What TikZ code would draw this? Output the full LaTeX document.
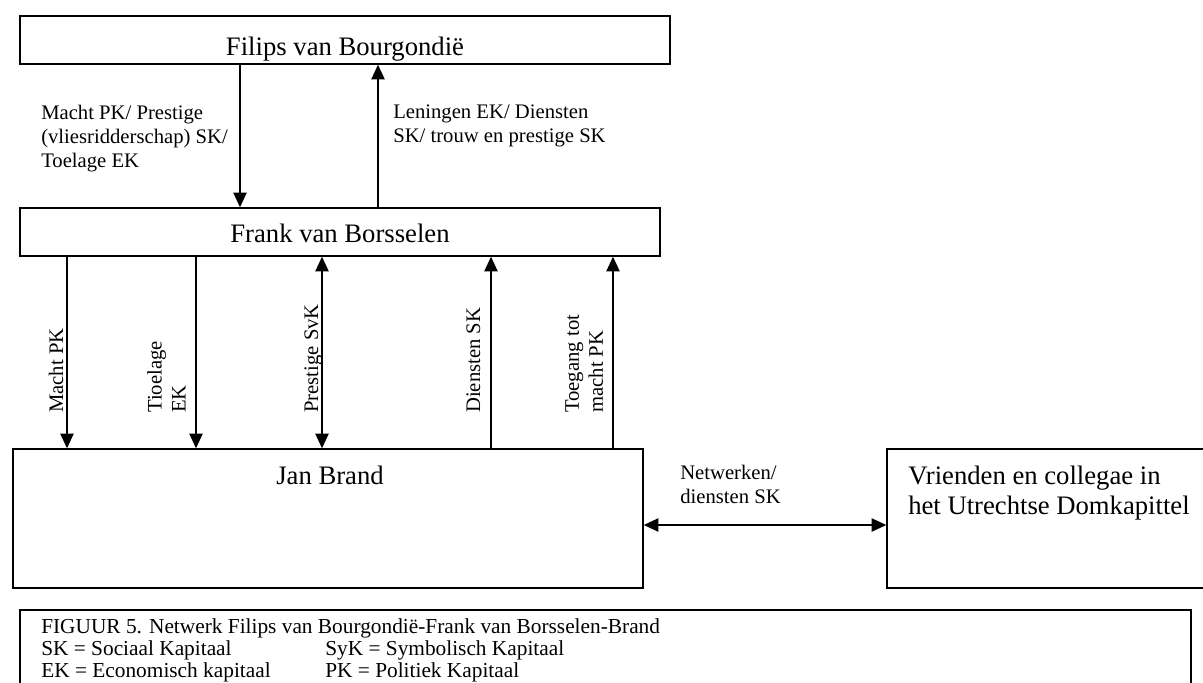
\documentclass[tikz,border=0pt]{standalone}
\usepackage{fontspec}
\setmainfont{Liberation Serif}
\usetikzlibrary{arrows.meta,fit}
\begin{document}
\begin{tikzpicture}[x=0.75pt,y=-0.75pt,
  box/.style={draw, line width=1.1pt, inner sep=0pt},
  conn/.style={line width=1pt, -{Triangle[width=10pt,length=11pt]}},
  biconn/.style={line width=1pt, {Triangle[width=10pt,length=11pt]}-{Triangle[width=10pt,length=11pt]}},
  ttl/.style={font=\fontsize{20}{22.5}\selectfont, inner sep=0pt},
  lbl/.style={font=\fontsize{15.5}{18}\selectfont, inner sep=0pt, align=left},
  lblone/.style={font=\fontsize{15.5}{18}\selectfont, inner sep=0pt},
  caplbl/.style={font=\fontsize{16}{16.5}\selectfont, inner sep=0pt, align=left},
]
\useasboundingbox (0,0) rectangle (1203,682);
\fill[white] (0,0) rectangle (1203,682);
% boxes
\node[box, fit={(20,16) (670,64)}] (fil) {};
\node[ttl, anchor=base] (filT) at (345,55) {Filips van Bourgondië};
\node[box, fit={(20,208) (660,256)}] (fra) {};
\node[ttl, anchor=base] (fraT) at (340,242) {Frank van Borsselen};
\node[box, fit={(13,449) (643,588)}] (jan) {};
\node[ttl, anchor=base] (janT) at (330,484) {Jan Brand};
\node[box, fit={(887,449) (1208,588)}] (vri) {};
\node[ttl, anchor=north west, align=left] (vriT) at (908,466) {Vrienden en collegae in\\het Utrechtse Domkapittel};
\node[box, fit={(20,610) (1191,700)}] (cap) {};
% connector positions
\coordinate (xa) at (240,0);
\coordinate (xb) at (378,0);
\coordinate (xc) at (67,0);
\coordinate (xd) at (196,0);
\coordinate (xe) at (322,0);
\coordinate (xf) at (491,0);
\coordinate (xg) at (613,0);
\coordinate (yh) at (0,525);
\draw[conn] (fil.south -| xa) -- (fra.north -| xa);
\draw[conn] (fra.north -| xb) -- (fil.south -| xb);
\draw[conn] (fra.south -| xc) -- (jan.north -| xc);
\draw[conn] (fra.south -| xd) -- (jan.north -| xd);
\draw[biconn] (fra.south -| xe) -- (jan.north -| xe);
\draw[conn] (jan.north -| xf) -- (fra.south -| xf);
\draw[conn] (jan.north -| xg) -- (fra.south -| xg);
\draw[biconn] (jan.east |- yh) -- (vri.west |- yh);
% labels
\node[lbl, anchor=north west] (l1) at (41,105) {Macht PK/ Prestige\\(vliesridderschap) SK/\\Toelage EK};
\node[lbl, anchor=north west] (l2) at (393,105) {Leningen EK/ Diensten\\SK/ trouw en prestige SK};
\node[lbl, anchor=north west] (l3) at (680,465) {Netwerken/\\diensten SK};
\node[lblone, rotate=90, anchor=base west] (v1) at (63,413) {Macht PK};
\node[lbl, rotate=90, anchor=north west] (v2) at (147,413) {Tioelage\\EK};
\node[lblone, rotate=90, anchor=base west] (v3) at (318,413) {Prestige SvK};
\node[lblone, rotate=90, anchor=base west] (v4) at (480,413) {Diensten SK};
\node[lbl, rotate=90, anchor=north west] (v5) at (565,413) {Toegang tot\\macht PK};
% caption
\node[caplbl, anchor=north west] (capT) at (41,618.5) {FIGUUR 5. Netwerk Filips van Bourgondië-Frank van Borsselen-Brand\\\makebox[213pt][l]{SK = Sociaal Kapitaal}SyK = Symbolisch Kapitaal\\\makebox[213pt][l]{EK = Economisch kapitaal}PK = Politiek Kapitaal};
\end{tikzpicture}
\end{document}
